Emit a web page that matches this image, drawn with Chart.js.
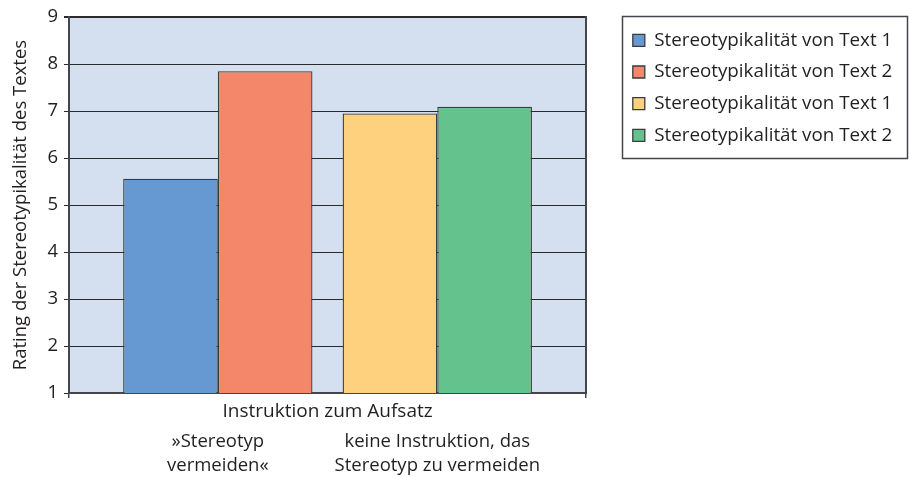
<!DOCTYPE html>
<html lang="de">
<head>
<meta charset="utf-8">
<title>Stereotypikalität der Texte</title>
<script src="https://cdn.jsdelivr.net/npm/chart.js@4/dist/chart.umd.min.js"></script>
<style>
  html, body { margin: 0; padding: 0; background: #ffffff; }
  #wrap { width: 910px; height: 477px; position: relative; }
</style>
</head>
<body>
<div id="wrap"><canvas id="chart"></canvas></div>
<script>
// Instruction conditions shown under the bars
const groupLabels = [
  ['»Stereotyp', 'vermeiden«'],
  ['keine Instruktion, das', 'Stereotyp zu vermeiden']
];
const axisTitleX = 'Instruktion zum Aufsatz';
const axisTitleY = 'Rating der Stereotypikalität des Textes';

// One entry per bar: legend name, condition index, mean rating
const seriesNames = [
  'Stereotypikalität von Text 1',
  'Stereotypikalität von Text 2',
  'Stereotypikalität von Text 1',
  'Stereotypikalität von Text 2'
];
const seriesGroup = [0, 0, 1, 1];
const seriesValues = [5.56, 7.85, 6.95, 7.09];
const seriesColors = ['#6699d1', '#f4866a', '#fdd17d', '#64c28c'];

// Rating scale ticks
const yTicks = [1, 2, 3, 4, 5, 6, 7, 8, 9];

const FONT = "'Open Sans', sans-serif";
const FONT_SIZE = 18.5;
const LEGEND_FONT_SIZE = 18.8;
const INK = '#231f20';
const GRID = '#2a2a2d';
const FRAME = '#45454d';
const PLOT_BG = '#d4dff0';

// horizontal room left and right of the two bar groups, in group units
const XPAD = 0.678;
const xMin = -XPAD;
const xMax = groupLabels.length - 1 + XPAD;

const datasets = seriesNames.map((name, s) => ({
  label: name,
  data: groupLabels.map((_, g) => ({ x: g, y: g === seriesGroup[s] ? seriesValues[s] : null })),
  backgroundColor: seriesColors[s],
  borderColor: '#3a3a3c',
  borderWidth: 1.3,
  skipNull: true,
  categoryPercentage: 0.8625,
  barPercentage: 1
}));

const plotBackground = {
  id: 'plotBackground',
  beforeDraw(chart) {
    const { ctx, chartArea: a } = chart;
    ctx.save();
    ctx.fillStyle = PLOT_BG;
    ctx.fillRect(a.left, a.top, a.right - a.left, a.bottom - a.top);
    ctx.restore();
  }
};

// thin frame around the legend entries
const legendFrame = {
  id: 'legendFrame',
  afterDraw(chart) {
    const boxes = chart.legend && chart.legend.legendHitBoxes;
    if (!boxes || !boxes.length) return;
    const left = Math.min(...boxes.map(b => b.left)) - 10.5;
    const right = Math.max(...boxes.map(b => b.left + b.width)) + 15.5;
    const top = Math.min(...boxes.map(b => b.top)) - 15;
    const bottom = Math.max(...boxes.map(b => b.top + b.height)) + 13;
    const ctx = chart.ctx;
    ctx.save();
    ctx.strokeStyle = FRAME;
    ctx.lineWidth = 1.5;
    ctx.strokeRect(Math.round(left) + 0.5, Math.round(top) + 0.5, Math.round(right - left), Math.round(bottom - top));
    ctx.restore();
  }
};

new Chart(document.getElementById('chart'), {
  type: 'bar',
  data: { datasets },
  plugins: [plotBackground, legendFrame],
  options: {
    responsive: true,
    maintainAspectRatio: false,
    animation: false,
    layout: { padding: { top: 15, right: 7.8, bottom: 0, left: 0 } },
    font: { family: FONT, size: FONT_SIZE },
    plugins: {
      tooltip: { enabled: false },
      legend: {
        position: 'right',
        align: 'start',
        maxWidth: 400,
        // empty title only adds a little space above the entries
        title: { display: true, text: '', padding: 0, font: { size: 3, lineHeight: 1 } },
        labels: {
          color: INK,
          font: { family: FONT, size: LEGEND_FONT_SIZE },
          boxWidth: 12,
          boxHeight: 12,
          padding: 12.9
        }
      }
    },
    scales: {
      x: {
        type: 'linear',
        position: 'bottom',
        weight: 0,
        offset: false,
        min: xMin,
        max: xMax,
        afterBuildTicks: s => { s.ticks = [{ value: xMin }, { value: xMax }]; },
        afterFit: s => { s.height = 32; },
        ticks: { display: false },
        grid: { display: true, offset: false, drawOnChartArea: false, drawTicks: true, tickLength: 5, color: FRAME, lineWidth: 1.5 },
        border: { display: true, color: FRAME, width: 2 },
        title: {
          display: true,
          text: axisTitleX,
          color: INK,
          font: { family: FONT, size: 19 },
          padding: { top: 0, bottom: 2 }
        }
      },
      xGroups: {
        type: 'linear',
        position: 'bottom',
        weight: 1,
        offset: false,
        min: xMin,
        max: xMax,
        afterBuildTicks: s => { s.ticks = groupLabels.map((_, g) => ({ value: g })); },
        afterFit: s => { s.height = 52; },
        grid: { display: false, offset: false, drawTicks: false },
        border: { display: false },
        ticks: {
          color: INK,
          font: { family: FONT, size: FONT_SIZE, lineHeight: 1.3 },
          padding: 5,
          maxRotation: 0,
          autoSkip: false,
          callback: (v, i) => groupLabels[i]
        }
      },
      y: {
        type: 'linear',
        position: 'left',
        min: yTicks[0],
        max: yTicks[yTicks.length - 1],
        afterBuildTicks: s => { s.ticks = yTicks.map(v => ({ value: v })); },
        afterFit: s => { s.width = 69; },
        ticks: { color: INK, font: { family: FONT, size: FONT_SIZE }, padding: 6 },
        grid: {
          color: GRID,
          lineWidth: c => (c.tick && c.tick.value === yTicks[yTicks.length - 1] ? 2 : 1),
          tickLength: 5
        },
        border: { display: true, color: FRAME, width: 2 },
        title: {
          display: true,
          text: axisTitleY,
          color: INK,
          font: { family: FONT, size: FONT_SIZE },
          padding: { top: 10, bottom: 0 }
        }
      },
      yRight: {
        type: 'linear',
        position: 'right',
        afterFit: s => { s.width = 33.8; },
        ticks: { display: false },
        grid: { display: false, drawTicks: false },
        border: { display: true, color: FRAME, width: 2 }
      }
    }
  }
});
</script>
</body>
</html>
